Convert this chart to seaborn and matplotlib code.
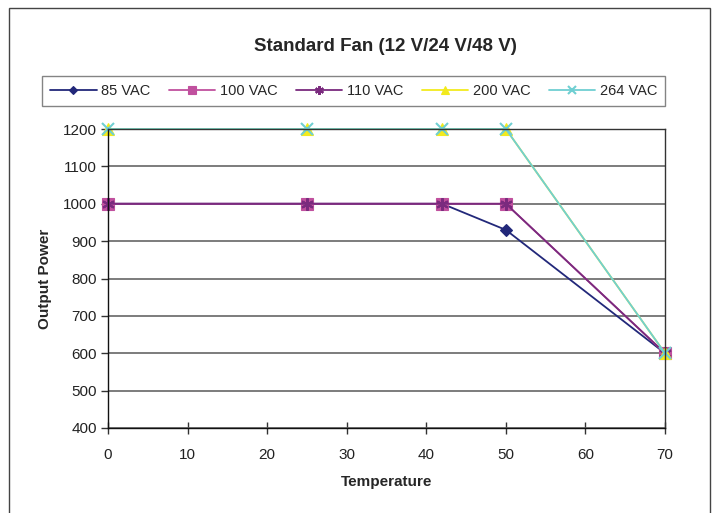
import matplotlib
matplotlib.use("Agg")
import matplotlib.pyplot as plt
import seaborn as sns
import pandas as pd
from matplotlib.patches import Rectangle

# Data
temperature = [0, 25, 42, 50, 70]
series_names = ["85 VAC", "100 VAC", "110 VAC", "200 VAC", "264 VAC"]
vac_85 = [1000, 1000, 1000, 930, 600]
vac_100 = [1000, 1000, 1000, 1000, 600]
vac_110 = [1000, 1000, 1000, 1000, 600]
vac_200 = [1200, 1200, 1200, 1200, 600]
vac_264 = [1200, 1200, 1200, 1200, 600]
x_ticks = [0, 10, 20, 30, 40, 50, 60, 70]
y_ticks = [400, 500, 600, 700, 800, 900, 1000, 1100, 1200]

values = [vac_85, vac_100, vac_110, vac_200, vac_264]
colors = ["#22287A", "#C0509E", "#7A2A7E", "#F2EA1E", "#6FCFD2"]
markers = ["D", "s", (6, 2, 0), "^", "x"]
msizes = [6, 8, 9, 8, 9]

df = pd.DataFrame({
    "Temperature": temperature * len(series_names),
    "Output Power": [v for s in values for v in s],
    "series": [n for n in series_names for _ in temperature],
})

sns.set_style("white")
plt.rcParams["font.family"] = ["Liberation Sans", "DejaVu Sans"]

fig = plt.figure(figsize=(7.14, 5.13), dpi=100)
ax = fig.add_axes([0.1513, 0.1657, 0.7801, 0.5828])

for name, col, mk, ms in zip(series_names, colors, markers, msizes):
    sub = df[df["series"] == name]
    sns.lineplot(data=sub, x="Temperature", y="Output Power", ax=ax,
                 color=col, marker=mk, markersize=ms, linewidth=1.3,
                 markeredgecolor=col, markeredgewidth=1.5 if mk in ["x", (6, 2, 0)] else 0.8,
                 label=name, clip_on=False)

ax.set_xlim(0, 70)
ax.set_ylim(400, 1200)
ax.set_xticks(x_ticks)
ax.set_yticks(y_ticks)
ax.yaxis.grid(True, color="#666666", linewidth=1.2)
ax.xaxis.grid(False)
ax.set_axisbelow(True)
for side in ["left", "bottom", "right", "top"]:
    ax.spines[side].set_visible(True)
    ax.spines[side].set_color("#333333")
    ax.spines[side].set_linewidth(1.0)
ax.spines["left"].set_color("#111111")
ax.spines["bottom"].set_color("#111111")
ax.tick_params(axis="x", direction="inout", length=9, width=1, color="#333333",
               labelsize=11, labelcolor="#222222", pad=10, bottom=True)
ax.tick_params(axis="y", direction="out", length=5, width=1, color="#333333",
               labelsize=11, labelcolor="#222222", pad=3, left=True)

ax.set_xlabel("Temperature", fontsize=11, fontweight="bold", labelpad=9)
ax.set_ylabel("Output Power", fontsize=11, fontweight="bold", labelpad=8)

fig.text(0.54, 0.91, "Standard Fan (12 V/24 V/48 V)", ha="center", va="center",
         fontsize=13.5, fontweight="bold")

leg = ax.legend(loc="lower left", bbox_to_anchor=(-0.1185, 1.077, 1.1185, 0.094),
                mode="expand", ncol=5, frameon=True, fontsize=10.5,
                handlelength=3.2, handletextpad=0.3, borderaxespad=0,
                borderpad=0.55, fancybox=False, markerscale=0.7)
leg.get_frame().set_edgecolor("#666666")
leg.get_frame().set_linewidth(1.0)

# outer chart border
fig.patches.append(Rectangle((0.013, -0.05), 0.982, 1.034, transform=fig.transFigure,
                             fill=False, edgecolor="#444444", linewidth=1.0))

fig.savefig("out.png", dpi=100)
